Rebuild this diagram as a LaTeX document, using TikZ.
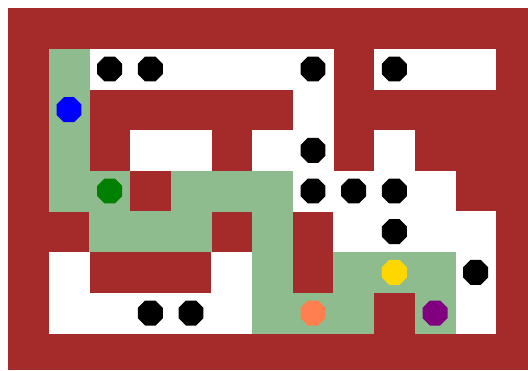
\documentclass[tikz,border=0pt]{standalone}
\usetikzlibrary{shapes.geometric}
\definecolor{wall}{HTML}{A52A2A}
\definecolor{route}{HTML}{8FBC8F}
\definecolor{dotgold}{HTML}{FFD700}
\definecolor{dotcoral}{HTML}{FF7F50}
\definecolor{dotpurple}{HTML}{800080}
\definecolor{dotgreen}{HTML}{008000}
\definecolor{dotblue}{HTML}{0000FF}
\begin{document}
\begin{tikzpicture}[x=1pt,y=-1pt,
  dot/.style={regular polygon, regular polygon sides=8, minimum size=27pt, inner sep=0pt, draw=none}]
\def\s{40.67}
\fill[white] (0,0) rectangle (528,370);
\useasboundingbox (0,0) rectangle (528,370);
\fill[wall] (8,8) rectangle (528,370);
% open (white) cells
\foreach \c/\r in {2/1,3/1,4/1,5/1,6/1,7/1,9/1,10/1,11/1,
                   7/2,
                   3/3,4/3,6/3,7/3,9/3,
                   7/4,8/4,9/4,10/4,
                   8/5,9/5,10/5,11/5,
                   1/6,5/6,11/6,
                   1/7,2/7,3/7,4/7,5/7,11/7}
  \fill[white] ({8+\s*\c},{8+\s*\r}) rectangle ({8+\s*(\c+1)+0.3},{8+\s*(\r+1)+0.3});
% route (green) cells
\foreach \c/\r in {1/1,1/2,1/3,
                   1/4,2/4,4/4,5/4,6/4,
                   2/5,3/5,4/5,6/5,
                   6/6,8/6,9/6,10/6,
                   6/7,7/7,8/7,10/7}
  \fill[route] ({8+\s*\c},{8+\s*\r}) rectangle ({8+\s*(\c+1)+0.3},{8+\s*(\r+1)+0.3});
% black markers
\foreach \c/\r [count=\i] in {2/1,3/1,7/1,9/1,7/3,7/4,8/4,9/4,9/5,11/6,3/7,4/7}
  \node[dot, fill=black] (k\i) at ({8+\s*(\c+0.5)},{8+\s*(\r+0.5)}) {};
% coloured markers
\node[dot, fill=dotblue]   (blue)   at ({8+\s*1.5},{8+\s*2.5}) {};
\node[dot, fill=dotgreen]  (green)  at ({8+\s*2.5},{8+\s*4.5}) {};
\node[dot, fill=dotgold]   (yellow) at ({8+\s*9.5},{8+\s*6.5}) {};
\node[dot, fill=dotcoral]  (orange) at ({8+\s*7.5},{8+\s*7.5}) {};
\node[dot, fill=dotpurple] (purple) at ({8+\s*10.5},{8+\s*7.5}) {};
\end{tikzpicture}
\end{document}
